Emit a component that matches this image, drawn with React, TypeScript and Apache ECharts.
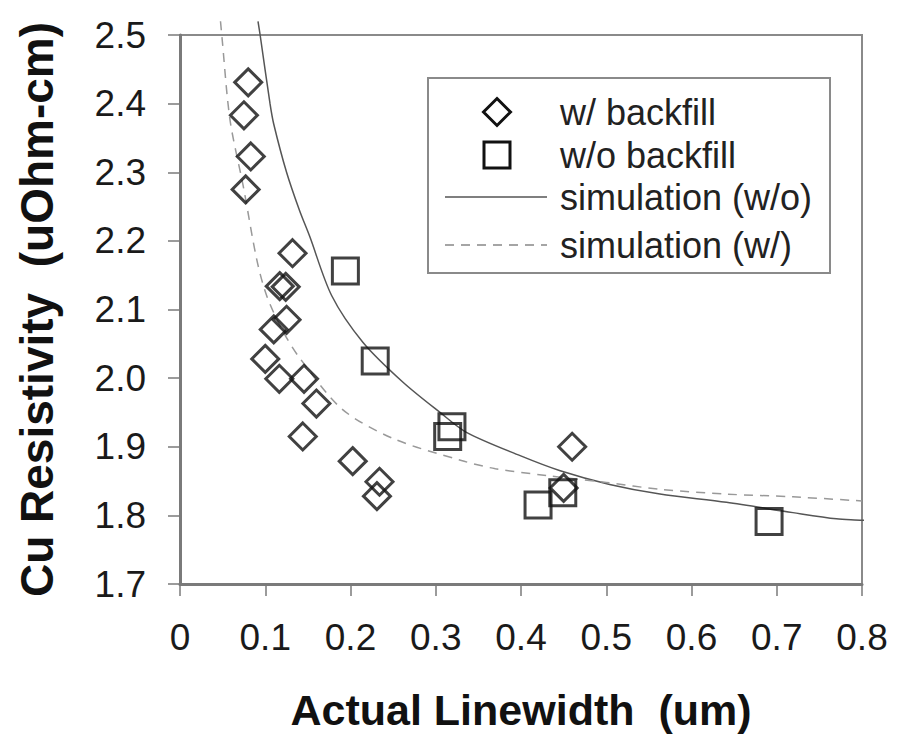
import React, { useEffect, useRef } from "react";
import * as echarts from "echarts";

const withBackfill: [number, number][] = [
  [0.080, 2.431], [0.075, 2.383], [0.083, 2.323], [0.077, 2.275],
  [0.132, 2.182], [0.117, 2.134], [0.124, 2.133], [0.125, 2.085],
  [0.110, 2.071], [0.100, 2.028], [0.1165, 1.999], [0.1455, 1.999],
  [0.160, 1.963], [0.144, 1.915], [0.2026, 1.879], [0.234, 1.849],
  [0.231, 1.828], [0.460, 1.900], [0.450, 1.840],
];

const withoutBackfill: [number, number][] = [
  [0.194, 2.156], [0.229, 2.025], [0.319, 1.929], [0.314, 1.915],
  [0.420, 1.815], [0.449, 1.833], [0.691, 1.791],
];

const simWithout: [number, number][] = [
  [0.0915, 2.52], [0.094, 2.50], [0.1056, 2.40], [0.11, 2.37], [0.125, 2.30],
  [0.14, 2.245], [0.152, 2.207], [0.178, 2.12], [0.2147, 2.052], [0.2616, 1.994],
  [0.305, 1.950], [0.336, 1.921], [0.399, 1.887], [0.446, 1.865], [0.504, 1.845],
  [0.563, 1.831], [0.641, 1.819], [0.719, 1.804], [0.770, 1.795], [0.8, 1.793],
  [0.82, 1.79],
];

const simWith: [number, number][] = [
  [0.0475, 2.52], [0.049, 2.50], [0.0587, 2.376], [0.0743, 2.279], [0.090, 2.173],
  [0.1017, 2.12], [0.12, 2.07], [0.14, 2.03], [0.19, 1.955], [0.25, 1.912],
  [0.33, 1.88], [0.37, 1.868], [0.43, 1.858], [0.50, 1.848], [0.563, 1.838],
  [0.641, 1.831], [0.719, 1.827], [0.8, 1.821],
];

const legendLabels = ["w/ backfill", "w/o backfill", "simulation (w/o)", "simulation (w/)"];

const xTicks = { min: 0, max: 0.8, interval: 0.1 };
const yTicks = { min: 1.7, max: 2.5, interval: 0.1 };

const FONT = "'Liberation Sans', Arial, Helvetica, sans-serif";

export default function App() {
  const ref = useRef<HTMLDivElement>(null);
  useEffect(() => {
    if (!ref.current) return;
    document.body.style.margin = "0";
    const chart = echarts.init(ref.current, undefined, { renderer: "svg" });

    const legendRows = [112, 155, 197, 245];
    const iconCx = 497;
    const half = 13.5;
    const legendGraphic: any[] = [
      {
        type: "rect",
        shape: { x: 428, y: 78, width: 402, height: 195 },
        style: { fill: "#ffffff", stroke: "#8a8a8a", lineWidth: 2 },
        z: 10,
      },
      {
        type: "polygon",
        shape: {
          points: [
            [iconCx, legendRows[0] - half], [iconCx + half, legendRows[0]],
            [iconCx, legendRows[0] + half], [iconCx - half, legendRows[0]],
          ],
        },
        style: { fill: "transparent", stroke: "#111", lineWidth: 3 },
        z: 11,
      },
      {
        type: "rect",
        shape: { x: iconCx - 13, y: legendRows[1] - 13, width: 26, height: 26 },
        style: { fill: "transparent", stroke: "#111", lineWidth: 3 },
        z: 11,
      },
      {
        type: "line",
        shape: { x1: 445, y1: legendRows[2], x2: 547, y2: legendRows[2] },
        style: { stroke: "#555", lineWidth: 1.5 },
        z: 11,
      },
      {
        type: "line",
        shape: { x1: 445, y1: legendRows[3], x2: 547, y2: legendRows[3] },
        style: { stroke: "#888", lineWidth: 1.5, lineDash: [9, 7] },
        z: 11,
      },
      ...legendLabels.map((t, i) => ({
        type: "text",
        x: 560,
        y: legendRows[i],
        style: {
          text: t, fill: "#222", fontSize: 36, fontFamily: FONT,
          textVerticalAlign: "middle", verticalAlign: "middle", textAlign: "left",
        },
        z: 11,
      })),
    ];

    chart.setOption({
      animation: false,
      backgroundColor: "#ffffff",
      textStyle: { fontFamily: FONT },
      grid: {
        left: 180, right: 43, top: 35, bottom: 151,
        show: true, borderColor: "#8a8a8a", borderWidth: 2, backgroundColor: "transparent",
      },
      graphic: legendGraphic,
      xAxis: {
        type: "value",
        min: xTicks.min, max: xTicks.max, interval: xTicks.interval,
        name: "Actual Linewidth  (um)",
        nameLocation: "middle", nameGap: 104,
        nameTextStyle: { fontSize: 43, fontWeight: "bold", color: "#111", fontFamily: FONT },
        axisLine: { show: true, lineStyle: { color: "#7a7a7a", width: 3 } },
        axisTick: { show: true, inside: false, length: 12, lineStyle: { color: "#7a7a7a", width: 1.5 } },
        axisLabel: {
          fontSize: 37, color: "#1a1a1a", margin: 35, fontFamily: FONT,
          formatter: (v: number) => (v === 0 ? "0" : v.toFixed(1)),
        },
        splitLine: { show: false },
      },
      yAxis: {
        type: "value",
        min: yTicks.min, max: yTicks.max, interval: yTicks.interval,
        name: "Cu Resistivity  (uOhm-cm)",
        nameLocation: "middle", nameGap: 120, nameRotate: 90,
        nameTextStyle: { fontSize: 46, fontWeight: "bold", color: "#111", fontFamily: FONT },
        axisLine: { show: true, lineStyle: { color: "#7a7a7a", width: 3 } },
        axisTick: { show: true, inside: false, length: 12, lineStyle: { color: "#7a7a7a", width: 1.5 } },
        axisLabel: {
          fontSize: 37, color: "#1a1a1a", margin: 34, fontFamily: FONT,
          formatter: (v: number) => v.toFixed(1),
        },
        splitLine: { show: false },
      },
      series: [
        {
          name: legendLabels[0],
          type: "scatter",
          symbol: "diamond",
          symbolSize: 27,
          data: withBackfill,
          itemStyle: { color: "transparent", borderColor: "#111", borderWidth: 3 },
          z: 5,
        },
        {
          name: legendLabels[1],
          type: "scatter",
          symbol: "rect",
          symbolSize: 26,
          data: withoutBackfill,
          itemStyle: { color: "transparent", borderColor: "#111", borderWidth: 3 },
          z: 5,
        },
        {
          name: legendLabels[2],
          type: "line",
          data: simWithout,
          smooth: 0.3,
          showSymbol: false,
          symbol: "none",
          clip: false,
          lineStyle: { color: "#555", width: 1.5, type: "solid" },
          itemStyle: { color: "#555" },
          z: 3,
        },
        {
          name: legendLabels[3],
          type: "line",
          data: simWith,
          smooth: 0.3,
          showSymbol: false,
          symbol: "none",
          clip: false,
          lineStyle: { color: "#999", width: 1.5, type: [9, 7] },
          itemStyle: { color: "#999" },
          z: 3,
        },
      ],
    });
    return () => chart.dispose();
  }, []);
  return <div ref={ref} style={{ width: 905, height: 736 }} />;
}
